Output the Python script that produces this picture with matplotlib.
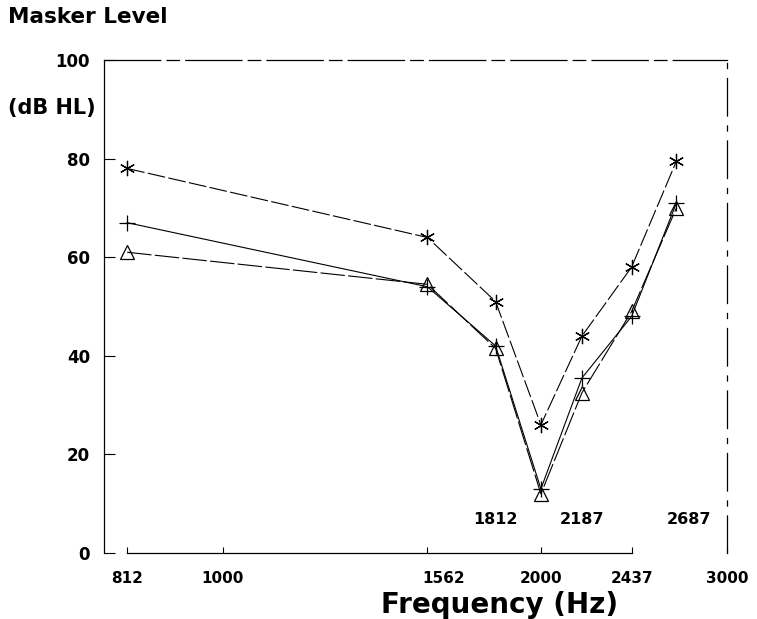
import matplotlib

matplotlib.use("Agg")
import matplotlib.pyplot as plt
import matplotlib.transforms as mtransforms
from matplotlib.ticker import FixedLocator, NullLocator

# frequencies (Hz) of the measured points
freqs = [812, 1562, 1812, 2000, 2187, 2437, 2687]

# masker level (dB HL) for the three conditions
star_vals = [78, 64, 51, 26, 44, 58, 79.5]
plus_vals = [67, 54, 42, 13, 35.5, 48, 71]
tri_vals = [61, 54.5, 41.5, 12, 32.5, 49, 70]

xtick_vals = [812, 1000, 1562, 2000, 2437, 3000]
xtick_labels = ["812", "1000", "1562", "2000", "2437", "3000"]
inner_vals = [1812, 2187, 2687]
inner_labels = ["1812", "2187", "2687"]
ytick_vals = [0, 20, 40, 60, 80, 100]

plt.rcParams["font.family"] = ["DejaVu Sans"]
plt.rcParams["font.weight"] = "bold"

fig = plt.figure(figsize=(7.57, 6.19), dpi=100)
ax = fig.add_axes([104 / 757, 1 - 553 / 619, 623 / 757, 493 / 619])

ax.plot(freqs, star_vals, color="black", lw=0.8, ls=(0, (16, 3)),
        marker=(6, 2, 0), ms=11, mew=0.9)
ax.plot(freqs, plus_vals, color="black", lw=0.8, ls="-",
        marker="+", ms=12, mew=0.9)
ax.plot(freqs, tri_vals, color="black", lw=0.8, ls=(0, (22, 3)),
        marker="^", ms=10, mew=0.9, mfc="none", mec="black")

ax.set_xscale("log")
ax.set_xlim(772, 3000)
ax.set_ylim(0, 100)

ax.xaxis.set_major_locator(FixedLocator(xtick_vals))
ax.xaxis.set_minor_locator(NullLocator())
ax.set_xticklabels(xtick_labels)
ax.set_yticks(ytick_vals)

ax.tick_params(axis="x", direction="in", length=4, width=0.8, pad=13, labelsize=11)
ax.tick_params(axis="y", direction="in", length=8, width=0.8, pad=10, labelsize=12)
for lbl in ax.get_xticklabels() + ax.get_yticklabels():
    lbl.set_fontweight("bold")

# the 1562 label sits a little right of its tick in the original
shift = mtransforms.ScaledTranslation(16 / 100, 0, fig.dpi_scale_trans)
for lbl in ax.get_xticklabels():
    if lbl.get_text() == "1562":
        lbl.set_transform(lbl.get_transform() + shift)

for f, t in zip(inner_vals, inner_labels):
    dx = 9 if t == "2687" else 0
    ax.annotate(t, (f, 6.7), xytext=(dx, 0), textcoords="offset points",
                ha="center", va="center", fontsize=11.5, fontweight="bold")

for s in ax.spines.values():
    s.set_linewidth(0.9)
ax.spines["bottom"].set_bounds(812, 2437)
ax.spines["top"].set_linestyle((0, (45, 5, 10, 5)))
ax.spines["right"].set_linestyle((0, (30, 8, 4, 8)))

fig.text(8 / 757, 1 - 17 / 619, "Masker Level", ha="left", va="center",
         fontsize=15.5, fontweight="bold")
fig.text(8 / 757, 1 - 108 / 619, "(dB HL)", ha="left", va="center",
         fontsize=15, fontweight="bold")
fig.text(500 / 757, 1 - 605 / 619, "Frequency (Hz)", ha="center", va="center",
         fontsize=20, fontweight="bold")

fig.savefig("out.png", dpi=100)
